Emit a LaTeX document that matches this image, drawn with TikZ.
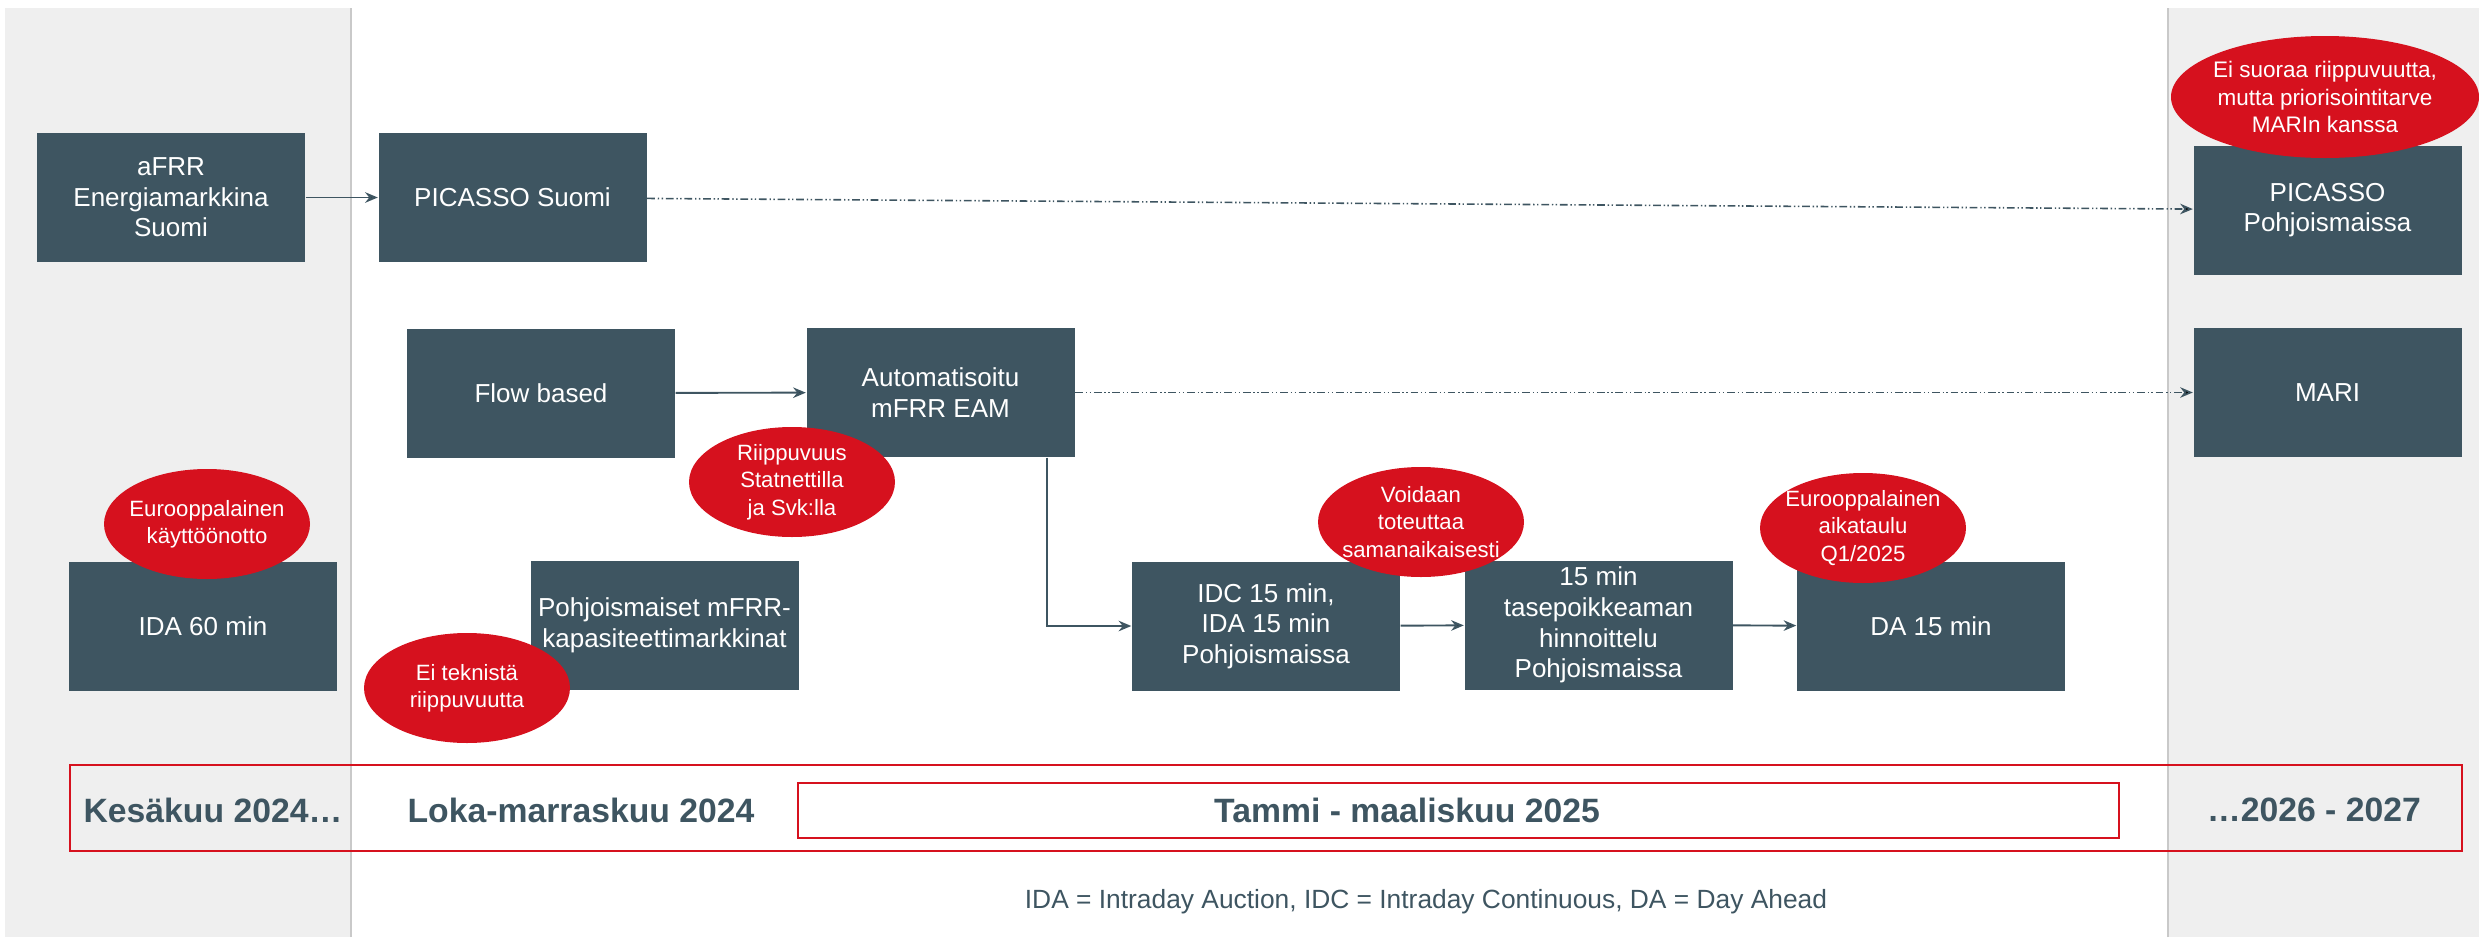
\documentclass[tikz,border=0pt]{standalone}
\usepackage{fontspec}
\setmainfont{Liberation Sans}
\usetikzlibrary{shapes.geometric,arrows.meta}

\definecolor{slate}{HTML}{3E5561}
\definecolor{fgred}{HTML}{D6111E}
\definecolor{bandgrey}{HTML}{EFEFEF}
\definecolor{bandline}{HTML}{C9C9C9}

\tikzset{
  box/.style={rectangle,fill=slate,text=white,minimum width=2.68cm,minimum height=1.29cm,
    inner sep=1pt,align=center,font=\fontsize{7.4}{8.7}\selectfont},
  note/.style={ellipse,fill=fgred,text=white,minimum width=2.06cm,minimum height=1.1cm,
    inner sep=-3pt,align=center,font=\fontsize{6.3}{7.8}\selectfont},
  arr/.style={draw=slate,line width=0.55pt,-{Stealth[length=3.6pt,width=3pt]}},
  later/.style={draw=slate,line width=0.45pt,-{Stealth[length=3.6pt,width=3pt]},
    dash pattern=on 2.2pt off 0.8pt on 0.4pt off 0.7pt on 0.4pt off 0.8pt},
  period/.style={text=slate,font=\fontsize{9.6}{11}\selectfont\bfseries},
}

\begin{document}
\begin{tikzpicture}
\useasboundingbox (0,0) rectangle (24.79,9.37);

% time bands
\fill[bandgrey] (0.05,0) rectangle (3.51,9.29);
\fill[bandgrey] (21.68,0) rectangle (24.79,9.29);
\draw[bandline] (3.51,0) -- (3.51,9.29);
\draw[bandline] (21.68,0) -- (21.68,9.29);

% steps
\path (1.71,7.395) node[box] (aFRR) {aFRR\\Energiamarkkina\\Suomi};
\path (5.125,7.395) node[box] (PicFi) {PICASSO Suomi};
\path (23.275,7.27) node[box] (PicNo) {PICASSO\\Pohjoismaissa};
\path (5.41,5.44) node[box] (Flow) {Flow based};
\path (9.405,5.445) node[box] (EAM) {Automatisoitu\\mFRR EAM};
\path (23.275,5.445) node[box] (MARI) {MARI};
\path (2.03,3.11) node[box] (IDA) {IDA 60 min};
\path (6.645,3.12) node[box] (Kap) {Pohjoismaiset mFRR-\\kapasiteettimarkkinat};
\path (12.66,3.11) node[box] (IDC) {IDC 15 min,\\IDA 15 min\\Pohjoismaissa};
\path (15.985,3.12) node[box] (Imb) {15 min\\tasepoikkeaman\\hinnoittelu\\Pohjoismaissa};
\path (19.31,3.11) node[box] (DA) {DA 15 min};

\path[arr] (aFRR) edge (PicFi);
\path[arr] (Flow) edge (EAM);
\path[arr] (IDC) edge (Imb);
\path[arr] (Imb) edge (DA);
\draw[arr] ([xshift=1.065cm]EAM.south) |- (IDC.west);
\path[later] (PicFi) edge (PicNo);
\path[later] (EAM) edge (MARI);

% remarks
\path (2.07,4.13) node[note] (Euro1) {Eurooppalainen\\käyttöönotto};
\path (7.92,4.55) node[note] (Dep) {Riippuvuus\\Statnettilla\\ja Svk:lla};
\path (4.67,2.49) node[note] (NoTech) {Ei teknistä\\riippuvuutta};
\path (14.21,4.15) node[note] (Same) {Voidaan\\toteuttaa\\samanaikaisesti};
\path (18.63,4.09) node[note] (Euro2) {Eurooppalainen\\aikataulu\\Q1/2025};
\path (23.25,8.40) node[note,minimum width=3.08cm,minimum height=1.22cm,
  font=\fontsize{6.4}{7.8}\selectfont] (Prio) {Ei suoraa riippuvuutta,\\mutta priorisointitarve\\MARIn kanssa};

% timeline
\draw[fgred,line width=0.6pt] (0.70,0.86) rectangle (24.62,1.72);
\draw[fgred,line width=0.6pt] (7.98,0.99) rectangle (21.19,1.54);
\path (2.13,1.27) node[period] (Jun) {Kesäkuu 2024…};
\path (5.81,1.27) node[period] (Oct) {Loka-marraskuu 2024};
\path (14.07,1.27) node[period] (Jan) {Tammi - maaliskuu 2025};
\path (23.14,1.27) node[period] (Late) {…2026 - 2027};

\path (14.26,0.35) node[text=slate,font=\fontsize{7.5}{9}\selectfont] (Abbr)
  {IDA = Intraday Auction, IDC = Intraday Continuous, DA = Day Ahead};
\end{tikzpicture}
\end{document}
